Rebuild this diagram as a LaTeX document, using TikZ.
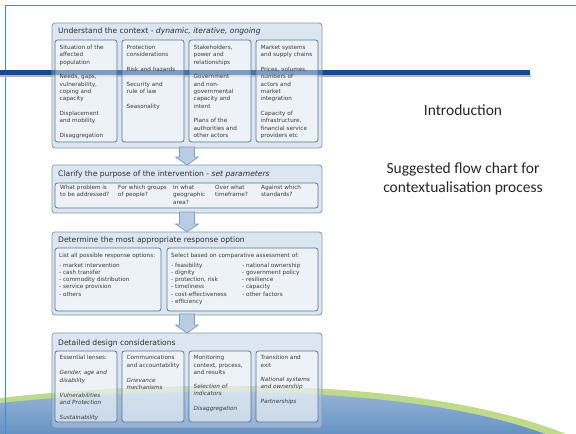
\documentclass[tikz,border=0pt]{standalone}
\usepackage{fontspec}
\setmainfont{Carlito}
\newfontfamily\dvs{DejaVu Sans}
\usetikzlibrary{calc}
\definecolor{frameblue}{HTML}{3A8ED6}
\definecolor{barblue}{HTML}{0F4C8F}
\definecolor{outfill}{HTML}{BBCFE3}
\definecolor{outdraw}{HTML}{8296AF}
\definecolor{indraw}{HTML}{5A7494}
\definecolor{txt}{HTML}{3A3A3A}
\definecolor{ttl}{HTML}{2E2E2E}
\definecolor{rtxt}{HTML}{262626}
\definecolor{arrowfill}{HTML}{B8CCE4}
\definecolor{arrowdraw}{HTML}{7F9DC2}
\definecolor{swgreen}{HTML}{C0DA8C}
\definecolor{swtop}{HTML}{A3BEDA}
\definecolor{swbot}{HTML}{5E8DC1}
\tikzset{
  outerbox/.style={draw=outdraw, line width=0.8pt, fill=outfill, fill opacity=0.5,
    draw opacity=1, text opacity=1, rounded corners=3pt, inner sep=0pt, outer sep=0pt,
    anchor=north west},
  innerbox/.style={draw=indraw, line width=0.8pt, fill=white, fill opacity=0.5,
    draw opacity=1, text opacity=1, rounded corners=2.5pt, inner sep=0pt, outer sep=0pt,
    anchor=north west},
  txtnode/.style={anchor=north west, inner sep=0pt, align=left, text=txt,
    font=\dvs\fontsize{5.7}{7.3}\selectfont},
  titlenode/.style={anchor=west, inner sep=0pt, text=ttl,
    font=\dvs\fontsize{7.6}{9}\selectfont},
  slidetext/.style={inner sep=0pt, align=center, text=rtxt,
    font=\fontsize{15.5}{19}\selectfont},
  blockarrow/.style={draw=arrowdraw, fill=arrowfill, line width=0.7pt, line join=round,
    to path={let \p1=(\tikztostart), \p2=(\tikztotarget) in
      (\x1-7.5pt,\y1+1pt) -- (\x1+7.5pt,\y1+1pt) -- (\x1+7.5pt,\y2+8pt) -- (\x1+11.5pt,\y2+8pt)
      -- (\x1,\y2) -- (\x1-11.5pt,\y2+8pt) -- (\x1-7.5pt,\y2+8pt) -- cycle}}
}
\begin{document}
\begin{tikzpicture}[x=1pt,y=-1pt]
\useasboundingbox (0,0) rectangle (576,434);
\fill[white] (0,0) rectangle (576,434);
% bottom swoosh
\begin{scope}
\clip (0,0) rectangle (576,434);
\fill[swgreen] (0,398) .. controls (150,381) and (430,372) .. (580,440) -- (0,440) -- cycle;
\shade[top color=swtop, bottom color=swbot] (0,403) .. controls (150,387) and (420,380) .. (560,440) -- (0,440) -- cycle;
\end{scope}
% slide frame
\draw[frameblue, line width=1.5pt] (5.5,434) -- (5.5,5.5) -- (576,5.5);
% dark title bar
\fill[gray!60] (0,74.5) rectangle (531,76.5);
\fill[barblue] (0,70) rectangle (530,74.5);

% ---- box 1
\node[outerbox, minimum width=270pt, minimum height=125pt] (b1) at (52,23) {};
\node[titlenode] (t1) at (58,31) {Understand the context - \textit{dynamic, iterative, ongoing}};
\node[innerbox, minimum width=62pt, minimum height=102pt] (b1c1) at (55,40) {};
\node[innerbox, minimum width=62pt, minimum height=102pt] (b1c2) at (122,40) {};
\node[innerbox, minimum width=62pt, minimum height=102pt] (b1c3) at (189,40) {};
\node[innerbox, minimum width=62pt, minimum height=102pt] (b1c4) at (256,40) {};
\node[txtnode] (x1c1) at (59.5,45) {Situation of the\\affected\\population\\[7.5pt]Needs, gaps,\\vulnerability,\\coping and\\capacity\\[7.5pt]Displacement\\and mobility\\[7.5pt]Disaggregation};
\node[txtnode] (x1c2) at (126.5,45) {Protection\\considerations\\[7.5pt]Risk and hazards\\[7.5pt]Security and\\rule of law\\[7.5pt]Seasonality};
\node[txtnode] (x1c3) at (193.5,45) {Stakeholders,\\power and\\relationships\\[7.5pt]Government\\and non-\\governmental\\capacity and\\intent\\[7.5pt]Plans of the\\authorities and\\other actors};
\node[txtnode] (x1c4) at (260.5,45) {Market systems\\and supply chains\\[7.5pt]Prices, volumes,\\numbers of\\actors and\\market\\integration\\[7.5pt]Capacity of\\infrastructure,\\financial service\\providers etc};
\fill[barblue, opacity=0.33] (52,70) rectangle (322,74.5);

% ---- box 2
\node[outerbox, minimum width=270pt, minimum height=48pt] (b2) at (52,165) {};
\node[titlenode] (t2) at (58,174) {Clarify the purpose of the intervention - \textit{set parameters}};
\node[innerbox, minimum width=263pt, minimum height=25pt] (b2i) at (55,183) {};
\node[txtnode] (x2a) at (60,185) {What problem is\\to be addressed?};
\node[txtnode] (x2b) at (118,185) {For which groups\\of people?};
\node[txtnode] (x2c) at (173,185) {In what\\geographic\\area?};
\node[txtnode] (x2d) at (215,185) {Over what\\timeframe?};
\node[txtnode] (x2e) at (261,185) {Against which\\standards?};

% ---- box 3
\node[outerbox, minimum width=270pt, minimum height=83pt] (b3) at (52,232) {};
\node[titlenode] (t3) at (58,240.5) {Determine the most appropriate response option};
\node[innerbox, minimum width=106pt, minimum height=63pt] (b3l) at (55,248) {};
\node[innerbox, minimum width=151pt, minimum height=63pt] (b3r) at (167,248) {};
\node[txtnode] (x3l) at (59,253.2) {List all possible response options:\\[2pt]- market intervention\\- cash transfer\\- commodity distribution\\- service provision\\- others};
\node[txtnode] (x3h) at (171,253.2) {Select based on comparative assessment of:};
\node[txtnode] (x3a) at (171,262.5) {- feasibility\\- dignity\\- protection, risk\\- timeliness\\- cost-effectiveness\\- efficiency};
\node[txtnode] (x3b) at (242,262.5) {- national ownership\\- government policy\\- resilience\\- capacity\\- other factors};

% ---- box 4
\node[outerbox, minimum width=270pt, minimum height=95pt] (b4) at (52,333) {};
\node[titlenode] (t4) at (58,343) {Detailed design considerations};
\node[innerbox, minimum width=62pt, minimum height=71pt] (b4c1) at (55,351) {};
\node[innerbox, minimum width=62pt, minimum height=71pt] (b4c2) at (122,351) {};
\node[innerbox, minimum width=62pt, minimum height=71pt] (b4c3) at (189,351) {};
\node[innerbox, minimum width=62pt, minimum height=71pt] (b4c4) at (256,351) {};
\node[txtnode] (x4c1) at (59.5,355.2) {Essential lenses:\\[7.7pt]\textit{Gender, age and}\\\textit{disability}\\[7.7pt]\textit{Vulnerabilities}\\\textit{and Protection}\\[7.7pt]\textit{Sustainability}};
\node[txtnode] (x4c2) at (126.5,355.2) {Communications\\and accountability\\[7.7pt]\textit{Grievance}\\\textit{mechanisms}};
\node[txtnode] (x4c3) at (193.5,355.2) {Monitoring\\context, process,\\and results\\[6.7pt]\textit{Selection of}\\\textit{indicators}\\[7.7pt]\textit{Disaggregation}};
\node[txtnode] (x4c4) at (260.5,355.2) {Transition and\\exit\\[7pt]\textit{National systems}\\\textit{and ownership}\\[7.7pt]\textit{Partnerships}};

% ---- arrows
\draw[blockarrow] (b1.south) to (b2.north);
\draw[blockarrow] (b2.south) to (b3.north);
\draw[blockarrow] (b3.south) to (b4.north);

% ---- slide text
\node[slidetext] (intro) at (463,110) {Introduction};
\node[slidetext] (sub) at (463,178.5) {Suggested flow chart for\\contextualisation process};
\end{tikzpicture}
\end{document}
